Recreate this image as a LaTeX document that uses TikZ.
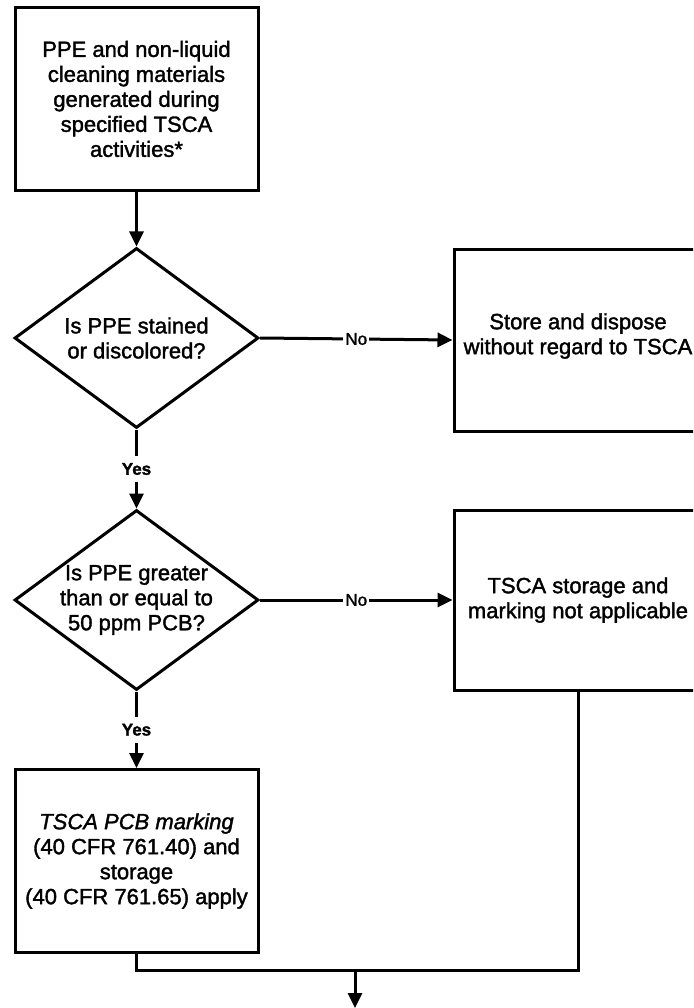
\documentclass[tikz,border=0pt]{standalone}
\usepackage{fontspec}
\setmainfont{Liberation Sans}[RawFeature={embolden=1.6},
  ItalicFeatures={RawFeature={embolden=1.6}}]
\usetikzlibrary{shapes.geometric,arrows.meta}

\tikzset{
  boxnode/.style={draw, line width=3pt, rectangle, inner sep=0pt,
    minimum width=243pt, minimum height=183pt},
  decision/.style={draw, line width=3pt, diamond, inner sep=0pt,
    minimum width=244pt, minimum height=180pt},
  bodytext/.style={align=center, inner sep=0pt,
    font=\fontsize{22}{25}\selectfont},
  link/.style={line width=3pt},
  flow/.style={line width=3pt, -{Triangle[length=15pt,width=14pt]}},
  nolabel/.style={fill=white, inner xsep=2pt, inner ysep=4pt,
    font=\fontsize{17}{19}\selectfont},
  yeslabel/.style={fill=white, inner xsep=2pt, inner ysep=7pt,
    font=\bfseries\fontsize{17}{19}\selectfont}
}

\begin{document}
\begin{tikzpicture}[x=1pt,y=-1pt]
  \useasboundingbox (0,0) rectangle (693,1008);
  \clip (0,0) rectangle (693,1008);
  \fill[white] (0,0) rectangle (693,1008);

  % left column
  \node[boxnode] (start) at (136.5,99) {};
  \node[bodytext] (starttext) at (start.center)
    {PPE and non-liquid\\cleaning materials\\generated during\\specified TSCA\\activities*};

  \node[decision] (stain) at (136.5,338) {};
  \node[bodytext] (staintext) at (stain.center)
    {Is PPE stained\\or discolored?};

  \node[decision] (conc) at (136.5,600) {};
  \node[bodytext] (conctext) at (conc.center)
    {Is PPE greater\\than or equal to\\50 ppm PCB?};

  \node[boxnode] (apply) at (136.5,861) {};
  \node[bodytext] (applytext) at (apply.center)
    {\itshape TSCA PCB marking\\(40 CFR 761.40) and\\storage\\(40 CFR 761.65) apply};

  % right column
  \node[boxnode, minimum width=248pt, minimum height=182pt] (dispose) at (578,340) {};
  \node[bodytext] (disposetext) at (578,336)
    {Store and dispose\\without regard to TSCA};

  \node[boxnode, minimum width=248pt, minimum height=180pt] (notapp) at (578,600) {};
  \node[bodytext] (notapptext) at (notapp.center)
    {TSCA storage and\\marking not applicable};

  % connectors
  \draw[flow] (start.south) -- (stain.north);
  \draw[flow] (stain.east) -- node[nolabel] {No} (dispose.west);
  \draw[flow] (stain.south) -- node[yeslabel] {Yes} (conc.north);
  \draw[flow] (conc.east) -- node[nolabel] {No} (notapp.west);
  \draw[flow] (conc.south) -- node[yeslabel] {Yes} (apply.north);

  \coordinate (merge) at (355,970);
  \coordinate (out) at (355,1008);
  \draw[link] (apply.south) |- (merge) -| (notapp.south);
  \draw[flow] (merge) -- (out);
\end{tikzpicture}
\end{document}
